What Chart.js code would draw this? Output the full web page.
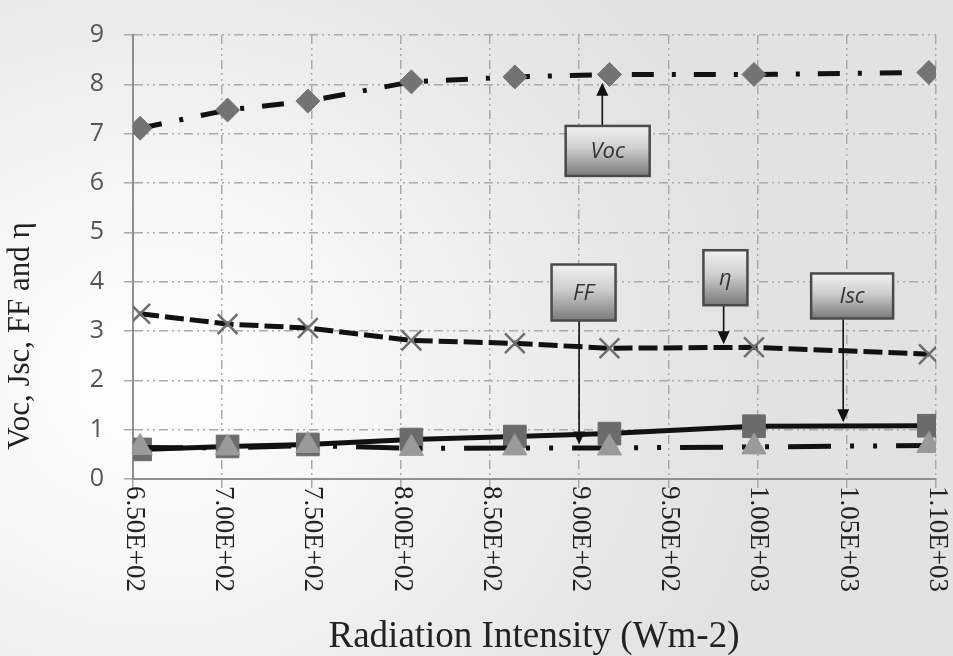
<!DOCTYPE html>
<html>
<head>
<meta charset="utf-8">
<script src="https://cdn.jsdelivr.net/npm/chart.js@4.4.1/dist/chart.umd.min.js"></script>
<style>
  html, body { margin: 0; padding: 0; }
  body {
    width: 953px; height: 656px; overflow: hidden;
    background: radial-gradient(ellipse 65% 85% at 16% 58%, #ffffff 0%, #f6f6f6 35%, #e8e8e8 75%, #e2e2e2 100%);
  }
  #wrap { position: relative; width: 953px; height: 656px; }
</style>
</head>
<body>
<div id="wrap"><canvas id="chart"></canvas></div>
<script>
// values
const radiation = [654, 703, 748, 806, 864, 917, 998, 1096];
const voc = [7.11, 7.48, 7.66, 8.05, 8.15, 8.20, 8.20, 8.24];
const eta = [3.35, 3.14, 3.06, 2.81, 2.75, 2.65, 2.67, 2.53];
const jsc = [0.60, 0.66, 0.70, 0.80, 0.86, 0.92, 1.07, 1.08];
const ff = [0.64, 0.63, 0.68, 0.62, 0.63, 0.63, 0.65, 0.68];

const xTicks = [650, 700, 750, 800, 850, 900, 950, 1000, 1050, 1100];
const xTickLabels = ['6.50E+02', '7.00E+02', '7.50E+02', '8.00E+02', '8.50E+02',
  '9.00E+02', '9.50E+02', '1.00E+03', '1.05E+03', '1.10E+03'];
const xTitle = 'Radiation Intensity (Wm-2)';
const yTitle = 'Voc, Jsc, FF and η';

// callout boxes: label, box centre and arrow tip in data units
const callouts = [
  { text: 'Voc', box: [916, 6.65], tip: [913, 8.03], w: 84, h: 50 },
  { text: 'FF', box: [902.5, 3.78], tip: [900, 0.70], w: 64, h: 56 },
  { text: 'η', box: [982, 4.08], tip: [981, 2.73], w: 44, h: 55 },
  { text: 'Isc', box: [1053, 3.71], tip: [1048, 1.15], w: 82, h: 45 }
];

const pts = ys => ys.map((y, i) => ({ x: radiation[i], y }));

const annotate = {
  id: 'annotate',
  afterDraw(chart) {
    const { ctx, scales: { x, y } } = chart;
    ctx.save();

    // x tick labels, turned clockwise
    ctx.fillStyle = '#222';
    ctx.font = '27px "Liberation Serif", "Times New Roman", serif';
    ctx.textAlign = 'left';
    ctx.textBaseline = 'middle';
    xTicks.forEach((v, i) => {
      ctx.save();
      ctx.translate(x.getPixelForValue(v) + 1, y.bottom + 7);
      ctx.rotate(Math.PI / 2);
      ctx.fillText(xTickLabels[i], 0, 0);
      ctx.restore();
    });

    // axis titles
    ctx.textAlign = 'center';
    ctx.font = '37px "Liberation Serif", "Times New Roman", serif';
    ctx.fillText(xTitle, 534, 637);
    ctx.save();
    ctx.translate(21, 336);
    ctx.rotate(-Math.PI / 2);
    ctx.font = '31px "Liberation Serif", "Times New Roman", serif';
    ctx.fillText(yTitle, 0, 0);
    ctx.restore();

    // callouts
    callouts.forEach(c => {
      const cx = x.getPixelForValue(c.box[0]);
      const cy = y.getPixelForValue(c.box[1]);
      const tx = x.getPixelForValue(c.tip[0]);
      const ty = y.getPixelForValue(c.tip[1]);
      const top = cy - c.h / 2, bot = cy + c.h / 2;
      const up = ty < top;
      const sy = up ? top : bot;
      const dir = up ? -1 : 1;

      ctx.strokeStyle = '#111';
      ctx.lineWidth = 1.6;
      ctx.beginPath();
      ctx.moveTo(tx, sy);
      ctx.lineTo(tx, ty - dir * 11);
      ctx.stroke();
      ctx.fillStyle = '#111';
      ctx.beginPath();
      ctx.moveTo(tx, ty);
      ctx.lineTo(tx - 6, ty - dir * 13);
      ctx.lineTo(tx + 6, ty - dir * 13);
      ctx.closePath();
      ctx.fill();

      const g = ctx.createLinearGradient(0, top, 0, bot);
      g.addColorStop(0, '#f2f2f2');
      g.addColorStop(0.45, '#cdcdcd');
      g.addColorStop(1, '#7a7a7a');
      ctx.fillStyle = g;
      ctx.fillRect(cx - c.w / 2, top, c.w, c.h);
      ctx.strokeStyle = '#4a4a4a';
      ctx.lineWidth = 2.5;
      ctx.strokeRect(cx - c.w / 2, top, c.w, c.h);

      ctx.fillStyle = '#333';
      ctx.font = 'italic 22px "Open Sans", "DejaVu Sans", sans-serif';
      ctx.textAlign = 'center';
      ctx.textBaseline = 'middle';
      ctx.fillText(c.text, cx, cy + 1);
    });
    ctx.restore();
  }
};

const gridDash = [9, 4, 2, 4, 2, 4];

new Chart(document.getElementById('chart').getContext('2d'), {
  type: 'scatter',
  data: {
    datasets: [
      {
        label: 'Voc', data: pts(voc), showLine: true,
        borderColor: '#111', borderWidth: 5, borderDash: [22, 18, 4, 18],
        pointStyle: 'rectRot', pointRadius: 12,
        pointBackgroundColor: '#737373', pointBorderColor: '#737373', pointBorderWidth: 1
      },
      {
        label: 'η', data: pts(eta), showLine: true,
        borderColor: '#111', borderWidth: 5, borderDash: [19, 6],
        pointStyle: 'crossRot', pointRadius: 14,
        pointBorderColor: '#6e6e6e', pointBorderWidth: 2.5
      },
      {
        label: 'FF', data: pts(ff), showLine: true,
        borderColor: '#111', borderWidth: 5, borderDash: [43, 19, 4, 19, 4, 19],
        pointStyle: 'triangle', pointRadius: 14,
        pointBackgroundColor: '#9a9a9a', pointBorderColor: '#9a9a9a', pointBorderWidth: 1
      },
      {
        label: 'Jsc', data: pts(jsc), showLine: true,
        borderColor: '#111', borderWidth: 5,
        pointStyle: 'rect', pointRadius: 16,
        pointBackgroundColor: '#6b6b6b', pointBorderColor: '#6b6b6b', pointBorderWidth: 1
      }
    ]
  },
  options: {
    responsive: true,
    maintainAspectRatio: false,
    animation: false,
    layout: { padding: { top: 17, right: 13, left: 0, bottom: 0 } },
    plugins: { legend: { display: false }, tooltip: { enabled: false } },
    scales: {
      x: {
        type: 'linear', min: 650, max: 1100,
        afterBuildTicks: s => { s.ticks = xTicks.map(v => ({ value: v })); },
        afterFit: s => { s.height = 177; },
        ticks: { display: false },
        grid: { color: '#a9a9a9', lineWidth: 1.5, tickLength: 9 },
        border: { color: '#8f8f8f', width: 2, dash: gridDash }
      },
      y: {
        min: 0, max: 9,
        afterFit: s => { s.width = 133; },
        ticks: {
          stepSize: 1, padding: 20, color: '#555',
          font: { family: '"Open Sans", "DejaVu Sans", sans-serif', size: 25 }
        },
        grid: { color: '#a9a9a9', lineWidth: 1.5, tickLength: 9 },
        border: { color: '#8f8f8f', width: 2, dash: gridDash }
      }
    }
  },
  plugins: [annotate]
});
</script>
</body>
</html>
